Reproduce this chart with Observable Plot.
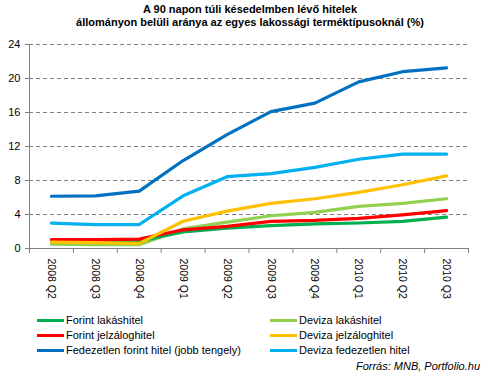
<!DOCTYPE html>
<html><head><meta charset="utf-8">
<script src="https://cdn.jsdelivr.net/npm/d3@7"></script>
<script src="https://cdn.jsdelivr.net/npm/@observablehq/plot@0.6"></script>
<style>
body{margin:0;background:#fff;font-family:"Liberation Sans",Arial,sans-serif;width:486px;height:376px;overflow:hidden;position:relative}
#title{position:absolute;left:0;top:3px;width:500px;text-align:center;font-weight:bold;font-size:11px;line-height:13px;color:#000}
#chart{position:absolute;left:0;top:36px}
.leg{position:absolute;font-size:11px;color:#000;white-space:nowrap}
.leg span{display:inline-block;width:27px;height:3px;vertical-align:middle;margin-right:2px;position:relative;top:-1px}
#src{position:absolute;right:6px;top:360px;font-size:11px;font-style:italic}
</style></head>
<body>
<div id="title">A 90 napon túli késedelmben lévő hitelek<br>állományon belüli aránya az egyes lakossági terméktípusoknál (%)</div>
<div id="chart"></div>
<div id="legend"></div>
<div id="src">Forrás: MNB, Portfolio.hu</div>
<script>
const quarters = ["2008 Q2","2008 Q3","2008 Q4","2009 Q1","2009 Q2","2009 Q3","2009 Q4","2010 Q1","2010 Q2","2010 Q3"];
const yTicks = [0,4,8,12,16,20,24];
const seriesNames = ["Forint lakáshitel","Deviza lakáshitel","Forint jelzáloghitel","Deviza jelzáloghitel","Fedezetlen forint hitel (jobb tengely)","Deviza fedezetlen hitel"];
const seriesColors = ["#00B050","#92D050","#FF0000","#FFC000","#0070C0","#00B0F0"];
const forintLakas = [0.8,0.8,0.85,1.95,2.4,2.7,2.9,3.0,3.2,3.7];
const devizaLakas = [0.5,0.45,0.45,2.3,3.1,3.85,4.25,4.95,5.3,5.85];
const forintJelzalog = [1.05,1.05,1.1,2.2,2.6,3.2,3.3,3.55,3.95,4.45];
const devizaJelzalog = [0.75,0.7,0.6,3.2,4.4,5.3,5.85,6.6,7.5,8.55];
const fedezetlenForint = [6.15,6.2,6.75,10.35,13.4,16.1,17.1,19.6,20.8,21.25];
const devizaFedezetlen = [2.98,2.8,2.82,6.2,8.45,8.8,9.55,10.5,11.1,11.1];
const seriesValues = [forintLakas,devizaLakas,forintJelzalog,devizaJelzalog,fedezetlenForint,devizaFedezetlen];

const rows = [];
seriesValues.forEach((vals,s)=>vals.forEach((v,i)=>rows.push({s:seriesNames[s],i,v})));
const drawOrder = [1,0,2,3,5,4];
const idx = quarters.map((q,i)=>i);
const bounds = d3.range(quarters.length+1).map(i=>i-0.5);

const chart = Plot.plot({
  width: 486, height: 270,
  marginLeft: 29, marginRight: 18, marginTop: 8, marginBottom: 58,
  style: {fontFamily: '"Liberation Sans", Arial, sans-serif', fontSize: "11px", color: "#000", background: "transparent"},
  x: {type: "linear", domain: [-0.5, quarters.length-0.5], label: null},
  y: {domain: [0,24], label: null},
  marks: [
    Plot.ruleY(yTicks.filter(t=>t>0), {stroke: "#808080", strokeDasharray: "4,3", strokeWidth: 1}),
    Plot.ruleX([-0.5], {stroke: "#808080", strokeWidth: 1}),
    Plot.ruleY([0], {stroke: "#808080", strokeWidth: 1}),
    Plot.axisY({ticks: yTicks, tickSize: 4, tickPadding: 5, stroke: "#808080", fill: "#000", fontSize: 11, label: null}),
    Plot.axisX({ticks: bounds, tickSize: 5, tickFormat: ()=>"", stroke: "#808080", label: null}),
    Plot.axisX({ticks: idx, tickSize: 0, tickPadding: 10, tickRotate: 90, tickFormat: i=>quarters[i], fontSize: 10.5, label: null}),
    ...drawOrder.map(s => Plot.line(rows.filter(r=>r.s===seriesNames[s]), {x: "i", y: "v", stroke: seriesColors[s], strokeWidth: 3.2})),
  ]
});
document.getElementById("chart").appendChild(chart);

const leg = document.getElementById("legend");
const legPos = [[37,314],[270,314],[37,329],[270,329],[37,344],[270,344]];
seriesNames.forEach((n,k)=>{
  const d = document.createElement("div");
  d.className = "leg";
  d.style.left = legPos[k][0]+"px"; d.style.top = legPos[k][1]+"px";
  d.innerHTML = `<span style="background:${seriesColors[k]}"></span>${n}`;
  leg.appendChild(d);
});
</script>
</body></html>
